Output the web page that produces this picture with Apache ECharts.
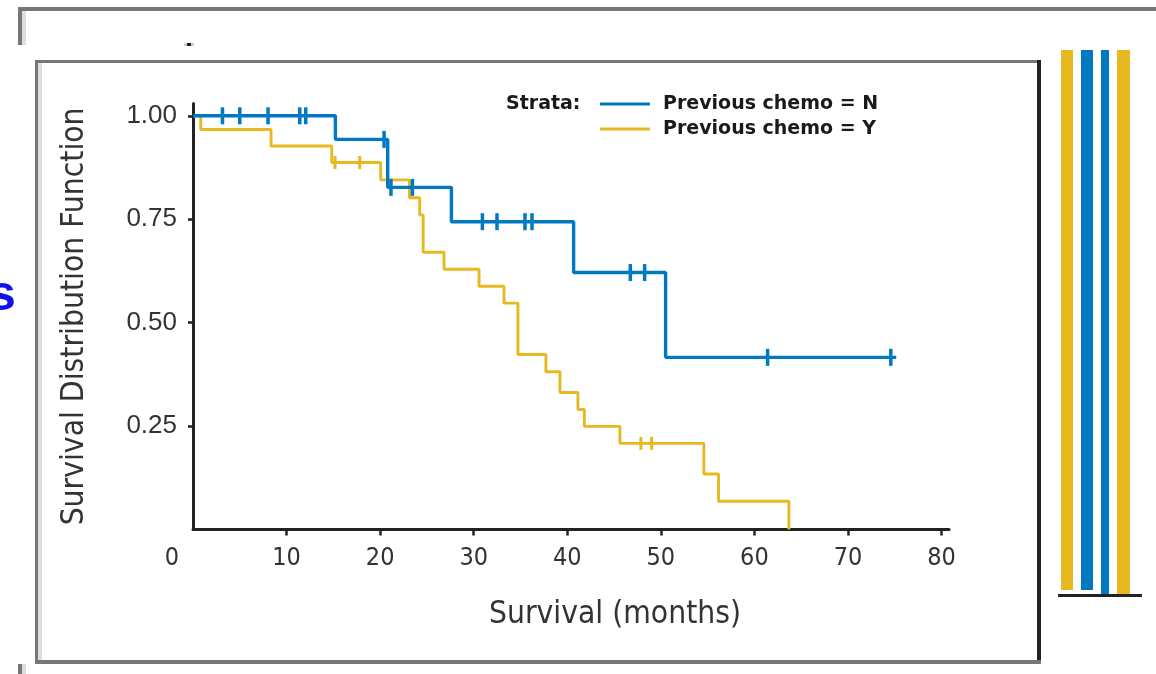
<!DOCTYPE html>
<html><head><meta charset="utf-8">
<script src="https://cdn.jsdelivr.net/npm/echarts@6/dist/echarts.min.js"></script>
<style>html,body{margin:0;padding:0;background:#fff}#c{width:1156px;height:674px}</style>
</head><body><div id="c"></div>
<script>
// ---- data ----
const seriesNames = ['Previous chemo = N', 'Previous chemo = Y'];
const xTickValues = [0, 10, 20, 30, 40, 50, 60, 70, 80];
const yTickValues = [0.25, 0.5, 0.75, 1.0];
const chemoN_steps = [[0,1],[15.22,0.943],[20.81,0.827],[27.62,0.744],[40.68,0.621],[50.51,0.416],[75.16,0.416]];
const chemoN_censored = [[3.15,1],[5.0,1],[8.02,1],[11.41,1],[12.05,1],[20.42,0.943],[21.16,0.827],[23.45,0.827],[30.93,0.744],[32.49,0.744],[35.48,0.744],[36.23,0.744],[46.74,0.621],[48.27,0.621],[61.41,0.416],[74.58,0.416]];
const chemoY_steps = [[0,1],[0.83,0.967],[8.34,0.927],[14.83,0.887],[20.06,0.845],[23.13,0.802],[24.23,0.760],[24.6,0.670],[26.83,0.629],[30.57,0.588],[33.24,0.547],[34.73,0.423],[37.72,0.381],[39.22,0.331],[41.14,0.290],[41.83,0.249],[45.63,0.208],[54.6,0.134],[56.17,0.068],[63.69,0]];
const chemoY_censored = [[15.18,0.887],[17.82,0.887],[47.87,0.208],[49.02,0.208]];

// ---- styles ----
const BLUE = '#0179C1';
const YELLOW = '#E8B820';
const INK = '#222';
const NARROW = '"Liberation Sans Narrow", "DejaVu Sans Condensed", "Liberation Sans", sans-serif';

const chart = echarts.init(document.getElementById('c'), null, {renderer: 'canvas'});
chart.setOption({
  animation: false,
  backgroundColor: '#fff',
  title: {
    text: 'Strata:', left: 506, top: 94, padding: 0,
    textStyle: {fontFamily: 'DejaVu Sans', fontWeight: 'bold', fontSize: 19, color: '#1a1a1a', lineHeight: 20}
  },
  legend: {
    data: seriesNames, orient: 'vertical', left: 600, top: 94, padding: 0,
    itemWidth: 50, itemHeight: 3, itemGap: 5, icon: 'rect',
    textStyle: {fontFamily: 'DejaVu Sans', fontWeight: 'bold', fontSize: 19, color: '#1a1a1a', lineHeight: 20, padding: [0, 0, 0, 8]}
  },
  grid: {left: 193, right: 207, top: 103.4, bottom: 144.6},
  xAxis: {
    type: 'value', min: 0, max: 80.8, offset: 2,
    name: 'Survival (months)', nameLocation: 'middle', nameGap: 67,
    nameTextStyle: {fontFamily: NARROW, fontSize: 31.5, color: '#333', padding: [0, 0, 0, 88]},
    axisLine: {show: true, lineStyle: {color: INK, width: 3}},
    axisTick: {show: true, customValues: xTickValues.slice(1), length: 6, lineStyle: {color: INK, width: 2.5}},
    axisLabel: {
      customValues: xTickValues, margin: 15, fontFamily: NARROW, fontSize: 25, color: '#333',
      formatter: v => v === 0 ? '{z|0}' : String(v),
      rich: {z: {fontFamily: NARROW, fontSize: 25, color: '#333', padding: [0, 42, 0, 0]}}
    },
    splitLine: {show: false}
  },
  yAxis: {
    type: 'value', min: 0, max: 1.03, offset: 2,
    name: 'Survival Distribution Function', nameLocation: 'middle', nameGap: 100,
    nameTextStyle: {fontFamily: NARROW, fontSize: 31.5, color: '#333'},
    axisLine: {show: true, lineStyle: {color: INK, width: 3}},
    axisTick: {show: true, customValues: yTickValues, length: 5, lineStyle: {color: INK, width: 2.5}},
    axisLabel: {customValues: yTickValues, margin: 14, fontFamily: '"Liberation Sans", sans-serif', fontSize: 26, color: '#333',
      formatter: v => v.toFixed(2)},
    splitLine: {show: false}
  },
  series: [
    {name: seriesNames[1], type: 'line', step: 'end', data: chemoY_steps, showSymbol: false, symbol: 'none',
      lineStyle: {color: YELLOW, width: 2.9}, itemStyle: {color: YELLOW}, z: 2},
    {name: seriesNames[0], type: 'line', step: 'end', data: chemoN_steps, showSymbol: false, symbol: 'none',
      lineStyle: {color: BLUE, width: 3.4}, itemStyle: {color: BLUE}, z: 3},
    {name: 'censor N', type: 'scatter', data: chemoN_censored, symbol: 'rect', symbolSize: [3.5, 17],
      itemStyle: {color: BLUE, opacity: 1}, z: 4},
    {name: 'censor Y', type: 'scatter', data: chemoY_censored, symbol: 'rect', symbolSize: [3, 13],
      itemStyle: {color: YELLOW, opacity: 1}, z: 4}
  ],
  graphic: [
    // outer frame fragments
    {type: 'rect', shape: {x: 18, y: 7, width: 1138, height: 4}, style: {fill: '#777'}},
    {type: 'rect', shape: {x: 18, y: 7, width: 4, height: 38}, style: {fill: '#777'}},
    {type: 'rect', shape: {x: 22, y: 11, width: 4, height: 34}, style: {fill: '#ddd'}},
    {type: 'rect', shape: {x: 18, y: 664, width: 4, height: 10}, style: {fill: '#777'}},
    {type: 'rect', shape: {x: 22, y: 664, width: 4, height: 10}, style: {fill: '#ddd'}},
    {type: 'rect', shape: {x: 184, y: 43, width: 10, height: 3}, style: {fill: '#ccc'}},
    {type: 'rect', shape: {x: 187, y: 43, width: 4, height: 3}, style: {fill: '#222'}},
    // inner frame
    {type: 'rect', shape: {x: 35, y: 60, width: 1006, height: 3}, style: {fill: '#777'}},
    {type: 'rect', shape: {x: 35, y: 60, width: 3, height: 604}, style: {fill: '#777'}},
    {type: 'rect', shape: {x: 38, y: 63, width: 4, height: 597}, style: {fill: '#ddd'}},
    {type: 'rect', shape: {x: 35, y: 660, width: 1006, height: 4}, style: {fill: '#777'}},
    {type: 'rect', shape: {x: 1037, y: 60, width: 4, height: 600}, style: {fill: '#222'}},
    // right decorative bars
    {type: 'rect', shape: {x: 1061, y: 50, width: 12, height: 540}, style: {fill: YELLOW}},
    {type: 'rect', shape: {x: 1081, y: 50, width: 12, height: 540}, style: {fill: BLUE}},
    {type: 'rect', shape: {x: 1101, y: 50, width: 8, height: 544}, style: {fill: BLUE}},
    {type: 'rect', shape: {x: 1117, y: 50, width: 13, height: 544}, style: {fill: YELLOW}},
    {type: 'rect', shape: {x: 1058, y: 594, width: 84, height: 3}, style: {fill: '#222'}},
    // clipped blue letter at left edge
    {type: 'text', style: {text: 's', x: -12, y: 296, font: 'bold 50px "Liberation Sans", sans-serif', fill: '#1111ee', verticalAlign: 'middle'}}
  ]
});
</script></body></html>
